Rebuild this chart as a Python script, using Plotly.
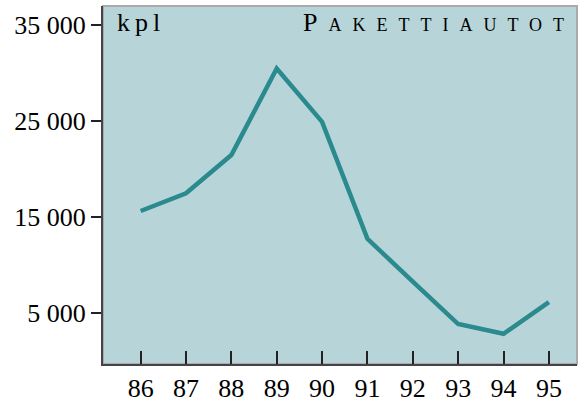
import plotly.graph_objects as go

years = [86, 87, 88, 89, 90, 91, 92, 93, 94, 95]
year_labels = ["86", "87", "88", "89", "90", "91", "92", "93", "94", "95"]
vans = [15600, 17450, 21440, 30480, 24910, 12700, 8230, 3800, 2780, 6080]
y_tickvals = [5000, 15000, 25000, 35000]
y_ticktext = ["5 000", "15 000", "25 000", "35 000"]

FONT = "Liberation Serif, Times New Roman, serif"

fig = go.Figure()
fig.add_trace(go.Scatter(
    x=years, y=vans, mode="lines",
    line=dict(color="#2a8a8e", width=4.5),
    hoverinfo="skip", showlegend=False,
))

fig.update_layout(
    width=584, height=403,
    margin=dict(l=103, r=7, t=6, b=39, autoexpand=False),
    paper_bgcolor="white",
    plot_bgcolor="#b7d5d9",
    font=dict(family=FONT, size=26, color="black"),
    xaxis=dict(
        range=[85.17, 95.62], automargin=False,
        tickvals=years, ticktext=year_labels,
        ticks="inside", ticklen=13, tickwidth=2, tickcolor="#222",
        showline=True, linecolor="#444", linewidth=2,
        showgrid=False, zeroline=False,
        tickfont=dict(size=26), ticklabelstandoff=0,
    ),
    yaxis=dict(
        range=[-370, 37000], automargin=False,
        tickvals=y_tickvals, ticktext=y_ticktext,
        ticks="outside", ticklen=10, tickwidth=1.5, tickcolor="#222",
        showline=True, linecolor="#444", linewidth=2,
        showgrid=False, zeroline=False,
        tickfont=dict(size=26),
    ),
    shapes=[dict(type="rect", xref="paper", yref="paper", x0=0, x1=1, y0=0, y1=1,
                 line=dict(color="#aaaaaa", width=2), layer="below")],
    annotations=[
        dict(text="<span style=\"letter-spacing:5px\">kpl</span>", xref="paper", yref="paper",
             x=0.025, y=1.0,
             xanchor="left", yanchor="top", showarrow=False,
             font=dict(size=26, family=FONT)),
        dict(text="<span style=\"letter-spacing:11px\">P</span>"
                  "<span style=\"font-size:18px;letter-spacing:11px\">AKETTIAUTOT</span>",
             xref="paper", yref="paper", x=1.0, y=1.0,
             xanchor="right", yanchor="top", showarrow=False,
             font=dict(size=26, family=FONT)),
    ],
)

fig.write_html("out.html", config={"displayModeBar": False},
               post_script="document.body.style.margin='0';document.body.style.overflow='hidden';")
